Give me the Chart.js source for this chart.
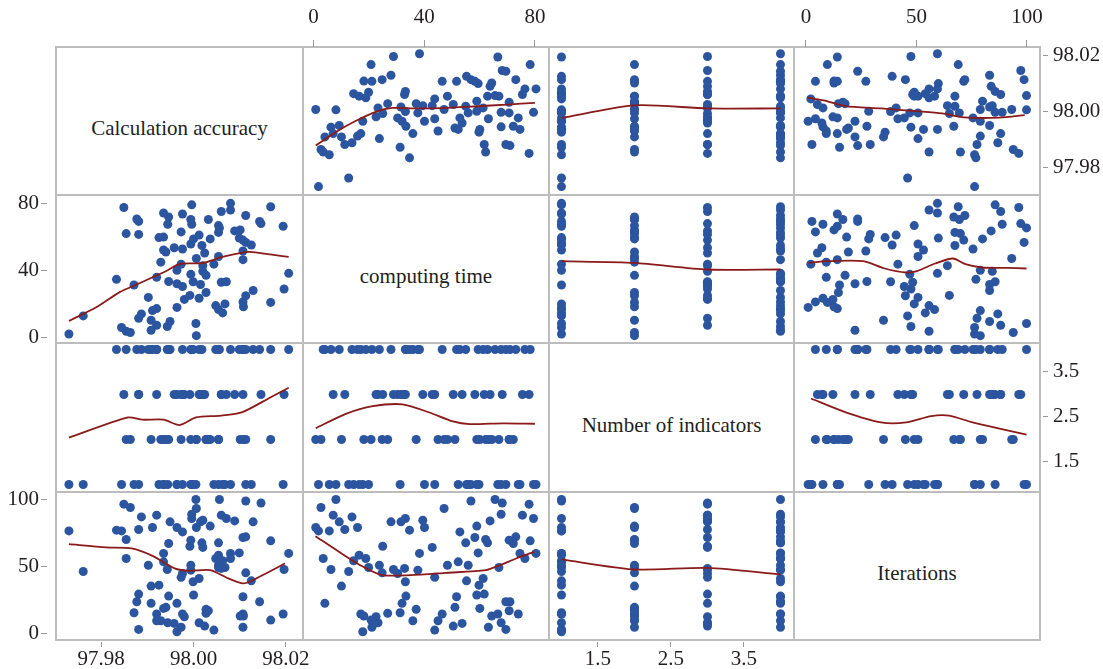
<!DOCTYPE html>
<html>
<head>
<meta charset="utf-8">
<title>Scatter plot matrix</title>
<script src="https://cdn.jsdelivr.net/npm/chart.js@4.4.1/dist/chart.umd.min.js"></script>
<style>
  html, body { margin: 0; padding: 0; background: #fff; }
  #matrix { position: relative; width: 1103px; height: 669px; overflow: hidden; font-family: 'Liberation Serif', 'DejaVu Serif', serif; }
  .rule { position: absolute; background: #bdbdbd; }
  .diag { position: absolute; font-size: 21px; color: #231f20; white-space: nowrap; transform: translate(-50%, -50%); }
  canvas { position: absolute; }
</style>
</head>
<body>
<div id="matrix"></div>
<script>
// one entry per observation
var accuracy = [
  98.0006, 97.9730, 97.9863, 97.9854, 97.9908, 97.9844, 97.9943, 97.9920, 98.0005, 97.9949,
  97.9908, 97.9881, 97.9761, 97.9887, 98.0063, 97.9911, 98.0054, 97.9920, 97.9964, 98.0108,
  98.0048, 98.0068, 98.0167, 98.0107, 97.9980, 98.0012, 97.9902, 98.0113, 97.9992, 98.0027,
  98.0129, 98.0196, 97.9976, 97.9871, 98.0015, 97.9964, 98.0060, 98.0071, 97.9999, 97.9946,
  97.9833, 97.9920, 98.0027, 97.9994, 98.0206, 98.0020, 97.9964, 98.0020, 98.0044, 97.9973,
  97.9929, 98.0107, 98.0006, 98.0054, 98.0024, 97.9940, 98.0107, 97.9935, 97.9976, 97.9958,
  98.0018, 98.0125, 97.9994, 98.0113, 98.0107, 98.0036, 98.0000, 98.0099, 97.9925, 97.9935,
  98.0012, 97.9881, 97.9854, 98.0054, 97.9973, 98.0089, 98.0101, 98.0056, 98.0194, 98.0054,
  97.9996, 97.9944, 98.0146, 98.0143, 97.9881, 98.0032, 97.9994, 97.9877, 97.9946, 98.0113,
  97.9976, 97.9935, 98.0060, 98.0080, 97.9849, 98.0167, 97.9996, 98.0080
];
var computingTime = [
  0.8, 1.8, 2.7, 3.5, 4.1, 5.7, 6.3, 7.1, 8.1, 9.3,
  10.1, 11.3, 12.7, 13.9, 14.5, 15.9, 16.5, 17.1, 17.8, 18.2,
  18.9, 19.9, 20.8, 21.1, 22.6, 23.3, 23.8, 24.8, 25.0, 26.8,
  28.0, 28.9, 30.4, 31.3, 31.6, 32.0, 32.9, 33.2, 33.2, 33.4,
  34.7, 35.9, 37.1, 37.7, 38.3, 39.5, 40.1, 42.9, 43.8, 43.8,
  45.0, 46.5, 47.2, 48.4, 50.5, 51.1, 51.7, 52.3, 52.9, 53.7,
  55.0, 55.3, 55.9, 56.9, 58.3, 59.0, 59.0, 59.5, 59.8, 60.1,
  61.3, 61.7, 62.2, 62.9, 63.2, 63.8, 64.4, 65.6, 66.6, 67.0,
  67.8, 67.8, 68.2, 69.5, 69.5, 70.7, 70.7, 71.0, 72.2, 73.1,
  74.0, 74.6, 75.5, 76.4, 77.9, 78.3, 79.5, 80.4
];
var indicatorCount = [
  2, 1, 2, 4, 4, 1, 4, 3, 1, 4,
  2, 3, 1, 4, 1, 4, 1, 4, 1, 2,
  4, 1, 2, 4, 3, 3, 4, 2, 3, 2,
  4, 3, 3, 1, 3, 3, 3, 3, 4, 4,
  4, 4, 2, 4, 4, 3, 1, 3, 1, 3,
  2, 4, 2, 2, 3, 2, 4, 1, 4, 3,
  4, 1, 1, 1, 3, 2, 1, 4, 1, 2,
  4, 3, 2, 4, 2, 3, 2, 4, 1, 2,
  4, 1, 3, 4, 1, 2, 2, 4, 2, 4,
  1, 1, 3, 4, 3, 4, 1, 1
];
var iterations = [
  78.9, 76.3, 93.8, 55.7, 22.2, 76.3, 47.5, 88.1, 99.8, 83.1,
  35.1, 77.4, 46.0, 86.8, 54.0, 78.9, 58.2, 14.2, 1.0, 12.7,
  55.7, 49.0, 9.7, 4.3, 12.2, 7.7, 50.7, 45.0, 64.9, 14.7,
  83.1, 47.5, 44.5, 15.2, 83.1, 22.2, 48.3, 85.6, 38.3, 27.6,
  76.9, 9.2, 17.7, 47.0, 59.5, 84.3, 78.9, 64.0, 2.2, 41.6,
  9.2, 14.2, 93.1, 50.7, 5.2, 19.2, 27.1, 53.2, 75.6, 7.2,
  67.4, 39.0, 50.7, 98.7, 71.4, 79.9, 28.4, 59.9, 35.8, 18.4,
  40.8, 29.1, 69.9, 67.4, 4.3, 83.8, 12.7, 99.8, 14.2, 49.0,
  88.8, 7.7, 97.2, 23.4, 2.7, 16.7, 69.4, 23.4, 66.9, 71.9,
  14.2, 59.5, 88.1, 55.7, 96.3, 68.9, 85.6, 59.5
];

var variableNames = ['Calculation accuracy', 'computing time', 'Number of indicators', 'Iterations'];
var accuracyTicks = [97.98, 98.00, 98.02];
var timeTicks = [0, 40, 80];
var indicatorTicks = [1.5, 2.5, 3.5];
var iterationTicks = [0, 50, 100];

// smoothed fit lines, [x, y] in data units of the panel they sit in
var fitAccuracyByTime = [[0.8, 97.9877], [8, 97.9925], [15, 97.9964], [22.5, 97.9998], [28.5, 98.0012], [36, 98.0010], [46, 98.0011], [58, 98.0017], [70, 98.0024], [80, 98.0030]];
var fitAccuracyByIndicators = [[1, 97.9976], [2, 98.0021], [3, 98.0010], [4, 98.0010]];
var fitAccuracyByIterations = [[0.7, 98.0049], [8, 98.0039], [17.7, 98.0018], [34, 98.0010], [50, 98.0000], [61.6, 97.9992], [71.4, 97.9978], [87.6, 97.9977], [99, 97.9986]];
var fitTimeByAccuracy = [[97.9730, 9.6], [97.9790, 18], [97.9840, 27], [97.9880, 32], [97.9943, 40], [97.9970, 44], [98.0020, 44.5], [98.0060, 48], [98.0100, 50.5], [98.0121, 51.2], [98.0170, 49.5], [98.0206, 48.2]];
var fitTimeByIndicators = [[1, 45.6], [2, 44.6], [3, 40.6], [4, 40.6]];
var fitTimeByIterations = [[1.2, 44.6], [9.6, 45.6], [25.9, 45.6], [35.6, 41.2], [45.3, 38.8], [50.2, 39.6], [58.4, 44.2], [66.5, 47.2], [72.2, 43.8], [79.5, 41.8], [90.9, 41.6], [99.8, 41.2]];
var fitIndicatorsByAccuracy = [[97.9730, 2.04], [97.9858, 2.49], [97.9889, 2.44], [97.9935, 2.44], [97.9970, 2.32], [98.0005, 2.49], [98.0059, 2.53], [98.0106, 2.61], [98.0167, 2.94], [98.0206, 3.15]];
var fitIndicatorsByTime = [[0.8, 2.25], [11.7, 2.57], [21.4, 2.74], [32.2, 2.78], [41.9, 2.60], [50.4, 2.40], [56.4, 2.34], [68.5, 2.36], [80, 2.35]];
var fitIndicatorsByIterations = [[2.3, 2.91], [17.7, 2.61], [34, 2.38], [45.3, 2.38], [56.7, 2.52], [64.8, 2.53], [74.6, 2.39], [87.6, 2.24], [99.8, 2.11]];
var fitIterationsByAccuracy = [[97.9730, 66.4], [97.9811, 64], [97.9866, 63.2], [97.9912, 57.5], [97.9959, 48.3], [97.9990, 46.5], [98.0036, 47], [98.0075, 40.8], [98.0106, 37.1], [98.0121, 38.3], [98.0198, 52]];
var fitIterationsByTime = [[0.7, 72.4], [9.2, 60.7], [16.9, 50.7], [24.7, 43.3], [35, 43.3], [48, 45], [62.2, 47], [67.4, 50.7], [73.2, 55.7], [79.7, 60.7]];
var fitIterationsByIndicators = [[1, 55], [2, 47.5], [3, 48.7], [4, 43.8]];

(function() {
  'use strict';

  var FONT = "'Liberation Serif', 'DejaVu Serif', serif";
  var DOT = '#2c55a0';
  var FIT = '#8b1a1a';
  var RULE = 2;
  var SPARE = 24;

  var columns = [accuracy, computingTime, indicatorCount, iterations];
  var tickSets = [accuracyTicks, timeTicks, indicatorTicks, iterationTicks];
  var decimals = [2, 0, 1, 0];
  var fits = {
    '0-1': fitAccuracyByTime, '0-2': fitAccuracyByIndicators, '0-3': fitAccuracyByIterations,
    '1-0': fitTimeByAccuracy, '1-2': fitTimeByIndicators, '1-3': fitTimeByIterations,
    '2-0': fitIndicatorsByAccuracy, '2-1': fitIndicatorsByTime, '2-3': fitIndicatorsByIterations,
    '3-0': fitIterationsByAccuracy, '3-1': fitIterationsByTime, '3-2': fitIterationsByIndicators
  };

  // panel edges in page pixels and the value range each panel spans
  var edgesX = [56, 303, 549, 794, 1040];
  var edgesY = [47, 195, 343, 492, 640];
  var xLimits = [[97.9702, 98.0237], [-3.8, 85.1], [0.829, 4.185], [-5.4, 105.9]];
  var yLimits = [[97.970, 98.023], [-3.6, 85.4], [0.833, 4.144], [-5.2, 105.4]];

  var SIDES = {
    top: { size: 47, tickLength: 7, dash: [], offset: 0, padding: 10 },
    bottom: { size: 29, tickLength: 7, dash: [5, 2], offset: 5, padding: 0 },
    left: { size: 56, tickLength: 15, dash: [6, 9], offset: 0, padding: 2 },
    right: { size: 63, tickLength: 8, dash: [5, 3], offset: 5, padding: 5 }
  };

  var root = document.getElementById('matrix');

  function addRule(x, y, w, h) {
    var d = document.createElement('div');
    d.className = 'rule';
    d.style.left = x + 'px';
    d.style.top = y + 'px';
    d.style.width = w + 'px';
    d.style.height = h + 'px';
    root.appendChild(d);
  }

  edgesX.forEach(function(x) {
    addRule(x - RULE / 2, edgesY[0] - RULE / 2, RULE, edgesY[4] - edgesY[0] + RULE);
  });
  edgesY.forEach(function(y) {
    addRule(edgesX[0] - RULE / 2, y - RULE / 2, edgesX[4] - edgesX[0] + RULE, RULE);
  });

  function sidesFor(r, c) {
    return {
      top: r === 0 && (c === 1 || c === 3) ? 'top' : null,
      bottom: r === 3 && (c === 0 || c === 2) ? 'bottom' : null,
      left: c === 0 && (r === 1 || r === 3) ? 'left' : null,
      right: c === 3 && (r === 0 || r === 2) ? 'right' : null
    };
  }

  function scaleOptions(axis, v, limits, side) {
    var o = { type: 'linear', min: limits[0], max: limits[1], display: !!side };
    if (!side) return o;
    var s = SIDES[side];
    o.position = side;
    o.border = { display: false };
    o.grid = {
      drawOnChartArea: false,
      drawTicks: true,
      tickLength: s.tickLength,
      color: '#9a9a9a',
      tickWidth: 1,
      tickBorderDash: s.dash,
      tickBorderDashOffset: s.offset
    };
    o.ticks = {
      padding: s.padding,
      color: '#231f20',
      font: { family: FONT, size: 21 },
      maxRotation: 0,
      autoSkip: false,
      callback: function(value) { return Number(value).toFixed(decimals[v]); }
    };
    o.afterBuildTicks = function(scale) {
      scale.ticks = tickSets[v].map(function(t) { return { value: t }; });
    };
    o.afterFit = function(scale) {
      if (axis === 'x') scale.height = s.size;
      else scale.width = s.size;
      scale.paddingLeft = 0;
      scale.paddingRight = 0;
      scale.paddingTop = 0;
      scale.paddingBottom = 0;
    };
    return o;
  }

  function drawPanel(r, c) {
    var sides = sidesFor(r, c);
    var padL = sides.left ? 0 : SPARE;
    var padR = sides.right ? 0 : SPARE;
    var padT = sides.top ? 0 : SPARE;
    var padB = sides.bottom ? 0 : SPARE;
    var extL = sides.left ? SIDES.left.size : SPARE;
    var extR = sides.right ? SIDES.right.size : SPARE;
    var extT = sides.top ? SIDES.top.size : SPARE;
    var extB = sides.bottom ? SIDES.bottom.size : SPARE;

    var canvas = document.createElement('canvas');
    var w = edgesX[c + 1] - edgesX[c] + extL + extR;
    var h = edgesY[r + 1] - edgesY[r] + extT + extB;
    canvas.width = w;
    canvas.height = h;
    canvas.style.width = w + 'px';
    canvas.style.height = h + 'px';
    canvas.style.left = (edgesX[c] - extL) + 'px';
    canvas.style.top = (edgesY[r] - extT) + 'px';
    root.appendChild(canvas);

    var xs = columns[c];
    var ys = columns[r];
    var points = xs.map(function(x, i) { return { x: x, y: ys[i] }; });
    var curve = fits[r + '-' + c].map(function(p) { return { x: p[0], y: p[1] }; });

    new Chart(canvas, {
      type: 'scatter',
      data: {
        datasets: [{
          data: curve,
          showLine: true,
          borderColor: FIT,
          borderWidth: 1.8,
          pointRadius: 0,
          tension: 0.25,
          fill: false,
          clip: false
        }, {
          data: points,
          backgroundColor: DOT,
          borderWidth: 0,
          pointRadius: 4.5,
          pointHoverRadius: 4.5,
          clip: false
        }]
      },
      options: {
        responsive: false,
        animation: false,
        events: [],
        devicePixelRatio: 1,
        layout: { padding: { left: padL, right: padR, top: padT, bottom: padB } },
        plugins: { legend: { display: false }, tooltip: { enabled: false } },
        scales: {
          x: scaleOptions('x', c, xLimits[c], sides.top || sides.bottom),
          y: scaleOptions('y', r, yLimits[r], sides.left || sides.right)
        }
      }
    });
  }

  for (var r = 0; r < 4; r++) {
    for (var c = 0; c < 4; c++) {
      if (r === c) {
        var label = document.createElement('div');
        label.className = 'diag';
        label.textContent = variableNames[r];
        label.style.left = ((edgesX[c] + edgesX[c + 1]) / 2) + 'px';
        label.style.top = ((edgesY[r] + edgesY[r + 1]) / 2 + 7) + 'px';
        root.appendChild(label);
      } else {
        drawPanel(r, c);
      }
    }
  }
})();
</script>
</body>
</html>
